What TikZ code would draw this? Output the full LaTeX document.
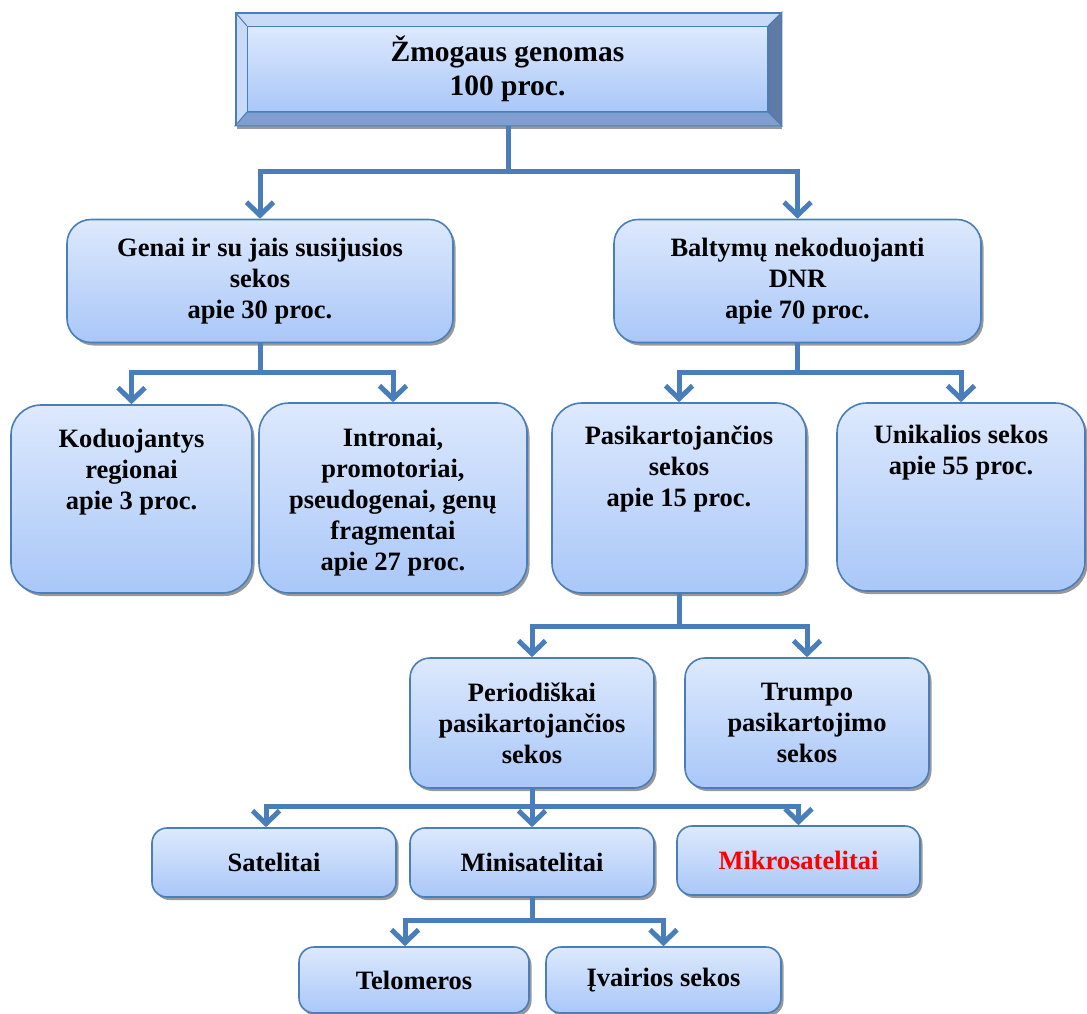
\documentclass[tikz,border=0pt]{standalone}
\usepackage{fontspec}
\setmainfont{Liberation Serif}
\usetikzlibrary{arrows.meta,positioning,shadows,backgrounds}
\definecolor{lineblue}{HTML}{4A7EBB}
\definecolor{facetop}{HTML}{DDE9FD}
\definecolor{facebot}{HTML}{A9C7F8}
\definecolor{bevlight}{HTML}{C8DAF8}
\definecolor{bevdark}{HTML}{5F7AA5}
\definecolor{bevmid}{HTML}{809ECF}
\newcommand\boxfont{\fontsize{26.5}{31}\selectfont\bfseries}
\newcommand\topfont{\fontsize{29.5}{34}\selectfont\bfseries}
\begin{document}
\begin{tikzpicture}[x=1pt,y=-1pt,
    box/.style={draw=lineblue,line width=1.6pt,rounded corners=24pt,
      top color=facetop,bottom color=facebot,
      drop shadow={shadow xshift=2.5pt,shadow yshift=-3pt,fill=black!40,opacity=1},
      align=center,font=\boxfont},
    smallbox/.style={box,rounded corners=15pt},
    boxtext/.style={align=center,inner sep=0pt,font=\boxfont},
    conn/.style={draw=lineblue,line width=5pt},
    arr/.style={conn,-{Straight Barb[length=13pt,width=27pt]}}]
  \useasboundingbox (0,0) rectangle (1087,1013);
  \clip (0,0) rectangle (1087,1013);

  % genome, bevelled box
  \node[draw=lineblue,line width=1.3pt,top color=facetop,bottom color=facebot,
    minimum width=520pt,minimum height=85pt,align=center,font=\topfont] (genomface) at (507.5,69) {Žmogaus genomas\\100 proc.};
  \begin{scope}[on background layer]
    \node[draw=lineblue,line width=1.6pt,fill=bevlight,minimum width=545pt,minimum height=112pt,
      drop shadow={shadow xshift=1pt,shadow yshift=-4pt,fill=black!40,opacity=1}] (genom) at (508.5,69) {};
    \filldraw[fill=bevdark,draw=lineblue,line width=1pt] (genom.north east) -- (genom.south east) -- (genomface.south east) -- (genomface.north east) -- cycle;
    \filldraw[fill=bevmid,draw=lineblue,line width=1pt] (genom.south west) -- (genom.south east) -- (genomface.south east) -- (genomface.south west) -- cycle;
    \draw[lineblue,line width=1pt] (genom.north west) -- (genomface.north west);
  \end{scope}

  % second row
  \node[box,minimum width=386pt,minimum height=123pt] (genai) at (260,281) {Genai ir su jais susijusios\\sekos\\apie 30 proc.};
  \node[box,minimum width=367pt,minimum height=123pt] (baltymai) at (797.5,281) {Baltymų nekoduojanti\\DNR\\apie 70 proc.};

  % third row
  \node[box,rounded corners=30pt,minimum width=241pt,minimum height=188pt] (kod) at (131.5,499) {};
  \node[boxtext,below=25pt of kod.north] (kodtxt) {Koduojantys\\regionai\\apie 3 proc.};
  \node[box,rounded corners=30pt,minimum width=268pt,minimum height=190pt] (intr) at (393,498) {};
  \node[boxtext,below=26pt of intr.north] (intrtxt) {Intronai,\\promotoriai,\\pseudogenai, genų\\fragmentai\\apie 27 proc.};
  \node[box,rounded corners=30pt,minimum width=254pt,minimum height=190pt] (pasik) at (679,498) {};
  \node[boxtext,below=23pt of pasik.north] (pasiktxt) {Pasikartojančios\\sekos\\apie 15 proc.};
  \node[box,rounded corners=30pt,minimum width=248pt,minimum height=188pt] (unik) at (961,497) {};
  \node[boxtext,below=23pt of unik.north] (uniktxt) {Unikalios sekos\\apie 55 proc.};

  % fourth row
  \node[box,rounded corners=20pt,minimum width=244pt,minimum height=130pt] (per) at (532,723) {Periodiškai\\pasikartojančios\\sekos};
  \node[box,rounded corners=20pt,minimum width=244pt,minimum height=130pt] (trump) at (807,723) {Trumpo\\pasikartojimo\\sekos};

  % fifth row
  \node[smallbox,minimum width=244pt,minimum height=69pt] (sat) at (274,862.5) {Satelitai};
  \node[smallbox,minimum width=244pt,minimum height=69pt] (mini) at (532,862.5) {Minisatelitai};
  \node[smallbox,minimum width=243pt,minimum height=69pt,text=red] (mikro) at (798.5,860.5) {Mikrosatelitai};

  % sixth row
  \node[smallbox,minimum width=230pt,minimum height=66pt] (telo) at (414,980) {Telomeros};
  \node[smallbox,minimum width=235pt,minimum height=66pt] (ivair) at (663.5,980) {Įvairios sekos};

  % connectors
  \draw[arr] (genom.south) -- ++(0,46) -| (genai.north);
  \draw[arr] (genom.south) -- ++(0,46) -| (baltymai.north);
  \draw[arr] (genai.south) -- ++(0,29) -| (kod.north);
  \draw[arr] (genai.south) -- ++(0,29) -| (intr.north);
  \draw[arr] (baltymai.south) -- ++(0,29) -| (pasik.north);
  \draw[arr] (baltymai.south) -- ++(0,29) -| (unik.north);
  \draw[arr] (pasik.south) -- ++(0,33) -| (per.north);
  \draw[arr] (pasik.south) -- ++(0,33) -| (trump.north);
  \draw[arr] (per.south) -- ++(0,18) -| ([xshift=-8pt]sat.north);
  \draw[arr] (per.south) -- ++(0,18) -| (mini.north);
  \draw[arr] (per.south) -- ++(0,18) -| (mikro.north);
  \draw[arr] (mini.south) -- ++(0,23) -| ([xshift=-9pt]telo.north);
  \draw[arr] (mini.south) -- ++(0,23) -| (ivair.north);
\end{tikzpicture}
\end{document}
